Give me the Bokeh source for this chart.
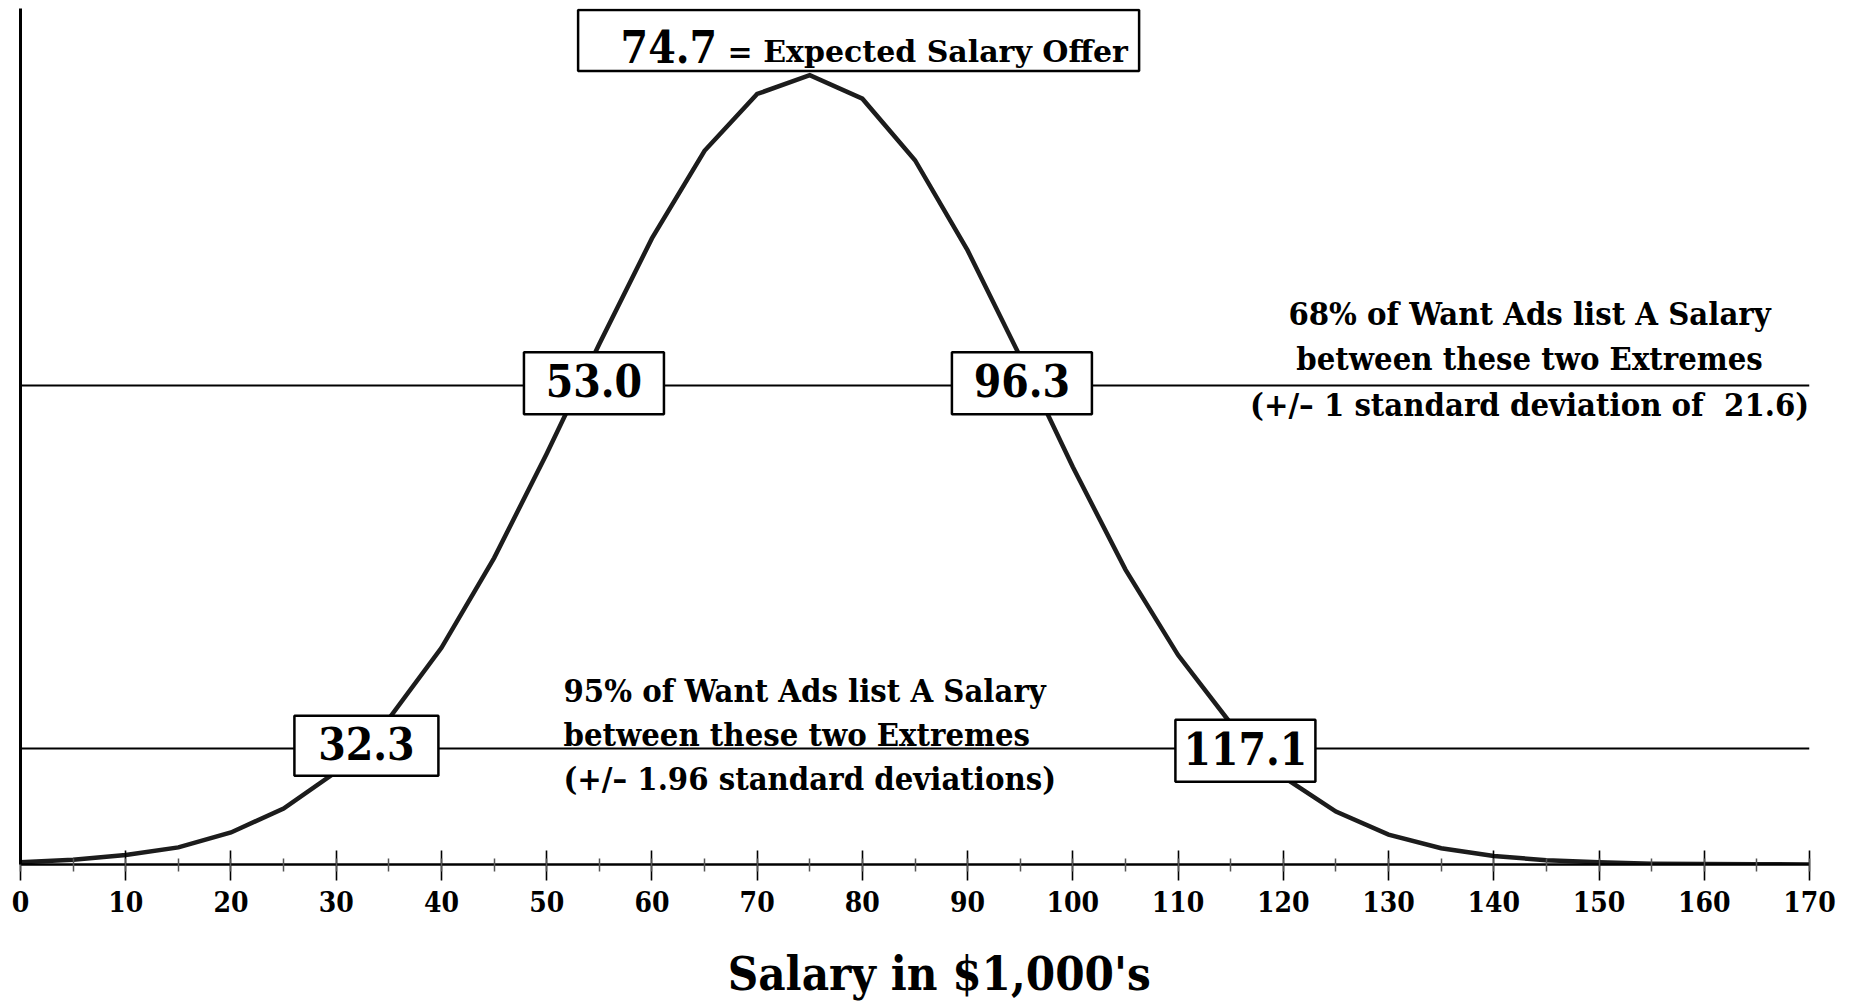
from bokeh.plotting import figure
from bokeh.layouts import column
from bokeh.models import Range1d, FixedTicker
from bokeh.core.properties import value
from bokeh.embed import file_html
from bokeh.resources import INLINE

# ---------------- data ----------------
salary_k = [0, 5, 10, 15, 20, 25, 30, 35, 40, 45, 50, 55, 60, 65, 70, 75, 80, 85,
            90, 95, 100, 105, 110, 115, 120, 125, 130, 135, 140, 145, 150, 155,
            160, 165, 170]
density = [0.05, 0.11, 0.22, 0.40, 0.75, 1.31, 2.17, 3.41, 5.07, 7.17, 9.61, 12.18,
           14.65, 16.70, 18.03, 18.47, 17.92, 16.48, 14.37, 11.88, 9.30, 6.90, 4.90,
           3.30, 2.05, 1.24, 0.70, 0.38, 0.20, 0.10, 0.05, 0.02, 0.01, 0.005, 0.002]
expected = 74.7
sd = 21.6
bounds_68 = [53.0, 96.3]
bounds_95 = [32.3, 117.1]
level_68 = 11.2
level_95 = 2.71
x_ticks = list(range(0, 171, 10))
x_minor = list(range(0, 171, 5))
text_68 = ["68% of Want Ads list A Salary", "between these two Extremes",
           f"(+/\u2013 1 standard deviation of \u00a0{sd})"]
text_95 = ["95% of Want Ads list A Salary", "between these two Extremes",
           "(+/\u2013 1.96 standard deviations)"]
x_title = "Salary in $1,000's"

# ---------------- layout ----------------
FONT = "DejaVu Serif Condensed"
W = 1848
LEFT, TOP, RIGHT, BOTTOM = 20, 8, 39, 60
FRAME_W, FRAME_H = W - LEFT - RIGHT, 856
H1 = TOP + FRAME_H + BOTTOM
H2 = 1004 - H1
Y_END = 20.03
PXX = FRAME_W / 170.0
PXY = FRAME_H / Y_END

xr = Range1d(0, 170)
p = figure(width=W, height=H1, x_range=xr, y_range=Range1d(0, Y_END),
           output_backend="svg", toolbar_location=None,
           min_border_left=LEFT, min_border_right=RIGHT,
           min_border_top=TOP, min_border_bottom=BOTTOM)
p.grid.visible = False
p.outline_line_color = None
p.background_fill_color = "white"
p.border_fill_color = "white"

ax = p.xaxis[0]
ax.ticker = FixedTicker(ticks=x_ticks, minor_ticks=x_minor)
ax.axis_line_width = 2.5
ax.axis_line_color = "black"
ax.major_tick_in = 14
ax.major_tick_out = 16
ax.major_tick_line_width = 1.6
ax.major_tick_line_color = "black"
ax.minor_tick_in = 6
ax.minor_tick_out = 7
ax.minor_tick_line_width = 1.5
ax.minor_tick_line_color = "#555555"
ax.major_label_text_font = FONT
ax.major_label_text_font_style = "bold"
ax.major_label_text_font_size = "28px"
ax.major_label_text_color = "black"
ax.major_label_standoff = 10

ay = p.yaxis[0]
ay.ticker = FixedTicker(ticks=[])
ay.axis_line_width = 3
ay.axis_line_color = "black"
ay.major_tick_out = 0
ay.major_tick_in = 0
ay.minor_tick_out = 0
ay.minor_tick_in = 0
ay.major_label_standoff = 0

# reference levels
p.hspan(y=[level_68, level_95], line_color="black", line_width=2.2)

# curve
p.line(salary_k, density, line_width=4.5, line_color="#1c1c1c", line_join="miter")

# boxes with bounds
bounds = bounds_68 + bounds_95
levels = [level_68, level_68, level_95, level_95]
box_dx_px = [15.7, -12.0, 6.0, -7.4]
box_dy_px = [-2.5, -2.5, -3.0, 2.0]
box_w = [140, 140, 144, 140]
box_h = [62, 62, 60, 62]
bx = [b + dx / PXX for b, dx in zip(bounds, box_dx_px)]
by = [l - dy / PXY for l, dy in zip(levels, box_dy_px)]
p.rect(x=bx, y=by, width=box_w, height=box_h, width_units="screen", height_units="screen",
       fill_color="white", line_color="black", line_width=2.5)
p.text(x=bx, y=by, text=[f"{b:.1f}" for b in bounds], text_font=value(FONT),
       text_font_style="bold", text_font_size="44px", text_color="black",
       text_align="center", text_baseline="middle", y_offset=-2.5)

# top box: expected value
top_cx = expected + 52 / PXX
top_cy = Y_END - 32 / PXY
p.rect(x=[top_cx], y=[top_cy], width=561, height=61, width_units="screen",
       height_units="screen", fill_color="white", line_color="black", line_width=2.5)
p.text(x=[expected - 186 / PXX], y=[top_cy], text=[f"{expected}"], text_font=value(FONT),
       text_font_style="bold", text_font_size="44px", text_color="black",
       text_align="left", text_baseline="middle", y_offset=6)
p.text(x=[expected - 79 / PXX], y=[top_cy], text=["= Expected Salary Offer"],
       text_font=value("DejaVu Serif"), text_font_style="bold", text_font_size="30px",
       text_color="black", text_align="left", text_baseline="middle", y_offset=11)

# explanatory blocks
p.text(x=[143.4] * 3, y=[level_68] * 3, text=text_68, text_font=value(FONT),
       text_font_style="bold", text_font_size="32.5px", text_color="black",
       text_align="center", text_baseline="middle", y_offset=[-72, -27, 19])
p.text(x=[51.6] * 3, y=[level_95] * 3, text=text_95, text_font=value(FONT),
       text_font_style="bold", text_font_size="32.5px", text_color="black",
       text_align="left", text_baseline="middle", y_offset=[-58, -14, 30])

# ---------------- axis title strip (shares the x scale) ----------------
p2 = figure(width=W, height=H2, x_range=xr, y_range=Range1d(0, H2),
            output_backend="svg", toolbar_location=None,
            x_axis_location=None, y_axis_location=None,
            min_border_left=LEFT, min_border_right=RIGHT,
            min_border_top=0, min_border_bottom=0)
p2.grid.visible = False
p2.outline_line_color = None
p2.background_fill_color = "white"
p2.border_fill_color = "white"
title_center_px = 973 - H1
p2.text(x=[87.3], y=[H2 - title_center_px], text=[x_title], text_font=value(FONT),
        text_font_style="bold", text_font_size="47px", text_color="black",
        text_align="center", text_baseline="middle")

layout = column(p, p2, spacing=0)
open("out.html", "w").write(file_html(layout, INLINE))
